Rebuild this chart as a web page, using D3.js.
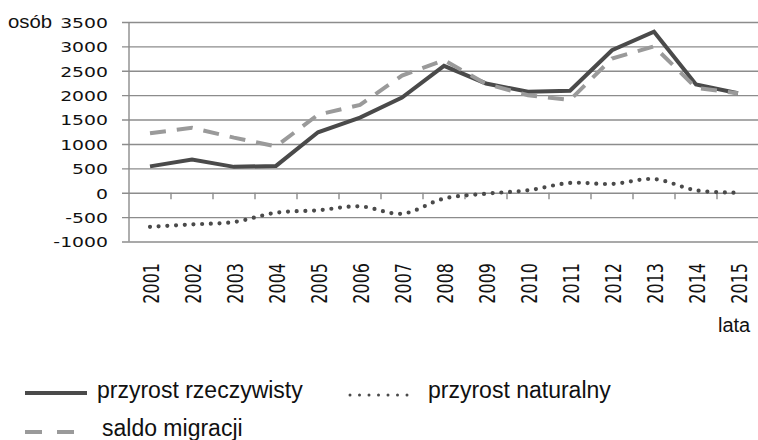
<!DOCTYPE html>
<html><head><meta charset="utf-8">
<script src="https://cdn.jsdelivr.net/npm/d3@7"></script>
<style>body{margin:0;background:#fff}svg{display:block}</style>
</head><body>
<svg id="c" width="758" height="440"></svg>
<script>
const years = ["2001","2002","2003","2004","2005","2006","2007","2008","2009","2010","2011","2012","2013","2014","2015"];
const rzeczywisty = [540, 680, 530, 550, 1240, 1540, 1950, 2600, 2240, 2070, 2090, 2920, 3300, 2220, 2040];
const naturalny = [-700, -650, -600, -410, -360, -280, -430, -120, -20, 50, 200, 180, 280, 50, 0];
const migracji = [1220, 1330, 1130, 950, 1600, 1800, 2400, 2720, 2230, 2000, 1900, 2750, 3000, 2150, 2040];
const yTicks = [-1000, -500, 0, 500, 1000, 1500, 2000, 2500, 3000, 3500];
const legendLabels = ["przyrost rzeczywisty", "przyrost naturalny", "saldo migracji"];

const svg = d3.select("#c");
const x = d3.scaleBand().domain(years).range([129, 759]);
const y = d3.scaleLinear().domain([-1000, 3500]).range([241.5, 22]);
const cx = d => x(d) + x.bandwidth() / 2;

// grid + y labels
const yAxis = svg.append("g").attr("transform", "translate(122,0)")
  .call(d3.axisLeft(y).tickValues(yTicks).tickSize(-(758 - 122)).tickPadding(14).tickFormat(d => String(d)));
yAxis.select(".domain").remove();
yAxis.selectAll(".tick line").attr("stroke", "#8c8c8c").attr("stroke-width", 1.4);
yAxis.selectAll(".tick text")
  .attr("x", null).attr("dy", "0.36em")
  .attr("transform", "translate(-14,0) scale(1.28,1)")
  .attr("font-family", "DejaVu Sans").attr("font-size", 14.7).attr("fill", "#111").attr("text-anchor", "end");

svg.append("text").attr("transform", "translate(8,28) scale(1.07,1)")
  .attr("font-family", "Liberation Sans").attr("font-size", 19).attr("fill", "#111").text("osób");

// vertical axis line
svg.append("line").attr("x1", 129).attr("x2", 129).attr("y1", y(3500)).attr("y2", y(-1000))
  .attr("stroke", "#8c8c8c").attr("stroke-width", 1.4);

// tick marks on zero line at band boundaries
const bounds = years.slice(1).map(d => x(d)).concat([x(years[years.length - 1]) + x.bandwidth()]);
svg.append("g").selectAll("line").data(bounds).join("line")
  .attr("x1", d => d).attr("x2", d => d).attr("y1", y(0)).attr("y2", y(0) + 6.5)
  .attr("stroke", "#8c8c8c").attr("stroke-width", 1.4);

// x labels
const xAxis = svg.append("g").attr("transform", "translate(0,263)")
  .call(d3.axisBottom(x).tickSize(0).tickPadding(0));
xAxis.select(".domain").remove();
xAxis.selectAll(".tick text")
  .attr("y", null).attr("dy", "0.36em")
  .attr("transform", "translate(1.5,0) scale(1.3,1) rotate(-90)")
  .attr("text-anchor", "end")
  .attr("font-family", "DejaVu Sans").attr("font-size", 16).attr("fill", "#111");

svg.append("text").attr("x", 718).attr("y", 332)
  .attr("font-family", "Liberation Sans").attr("font-size", 20).attr("fill", "#111").text("lata");

// lines
const lineLin = d3.line().x((d, i) => cx(years[i])).y(d => y(d));
const lineSmooth = d3.line().x((d, i) => cx(years[i])).y(d => y(d)).curve(d3.curveCatmullRom.alpha(0.5));

svg.append("path").datum(rzeczywisty).attr("d", lineLin)
  .attr("fill", "none").attr("stroke", "#4a4a4a").attr("stroke-width", 4);
svg.append("path").datum(naturalny).attr("d", lineSmooth)
  .attr("fill", "none").attr("stroke", "#4a4a4a").attr("stroke-width", 4.2)
  .attr("stroke-dasharray", "0 8.7").attr("stroke-linecap", "round");
svg.append("path").datum(migracji).attr("d", lineLin)
  .attr("fill", "none").attr("stroke", "#9a9a9a").attr("stroke-width", 4)
  .attr("stroke-dasharray", "16 11");

// legend
const lg = svg.append("g");
lg.append("line").attr("x1", 25).attr("x2", 87).attr("y1", 393).attr("y2", 393)
  .attr("stroke", "#4a4a4a").attr("stroke-width", 4);
lg.append("text").attr("x", 97).attr("y", 398).text(legendLabels[0]);
lg.append("line").attr("x1", 350).attr("x2", 407.5).attr("y1", 395).attr("y2", 395)
  .attr("stroke", "#4a4a4a").attr("stroke-width", 3).attr("stroke-dasharray", "0 9.5").attr("stroke-linecap", "round");
lg.append("text").attr("x", 428).attr("y", 398).text(legendLabels[1]);
lg.append("line").attr("x1", 25).attr("x2", 74).attr("y1", 432).attr("y2", 432)
  .attr("stroke", "#9a9a9a").attr("stroke-width", 4).attr("stroke-dasharray", "17 15");
lg.append("text").attr("x", 102).attr("y", 436).text(legendLabels[2]);
lg.selectAll("text").attr("font-family", "Liberation Sans").attr("font-size", 23).attr("fill", "#111");
</script>
</body></html>
